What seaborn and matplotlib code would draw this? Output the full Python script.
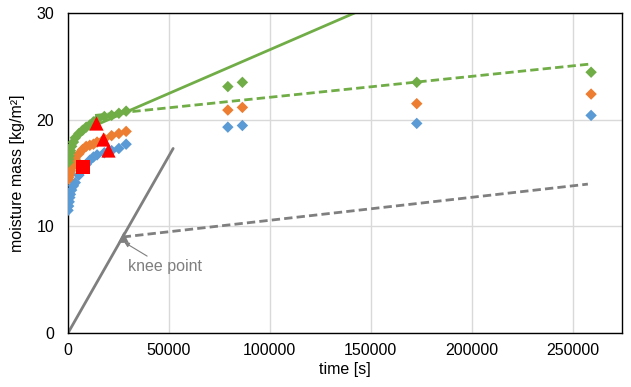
import numpy as np
import pandas as pd
import seaborn as sns
from matplotlib import pyplot as plt

# measured moisture mass [kg/m2] over time [s]
time_s = [0, 300, 600, 900, 1200, 1800, 2700, 3600, 5400, 7200, 9000, 10800,
          12600, 14400, 18000, 21600, 25200, 28800, 79200, 86400, 172800, 259200]
mass_blue = [11.5, 11.9, 12.3, 12.7, 13.0, 13.4, 13.8, 14.1, 14.8, 15.3, 15.8, 16.2,
             16.5, 16.7, 16.9, 17.1, 17.3, 17.7, 19.3, 19.45, 19.65, 20.4]
mass_orange = [14.4, 14.6, 14.8, 15.0, 15.2, 15.5, 15.9, 16.3, 16.8, 17.2, 17.5, 17.6,
               17.7, 17.9, 18.2, 18.5, 18.7, 18.9, 20.9, 21.15, 21.5, 22.4]
mass_green = [16.0, 16.3, 16.6, 16.9, 17.1, 17.5, 17.9, 18.3, 18.7, 19.0, 19.3, 19.5,
              19.8, 20.0, 20.3, 20.4, 20.6, 20.8, 23.1, 23.5, 23.5, 24.45]

# red markers
square_t = [7600]
square_m = [15.6]
triangle_t = [13900, 17500, 19600]
triangle_m = [19.65, 18.15, 17.15]

# fitted lines
green_solid_t = [13900, 170000]
green_solid_m = [19.5, 32.3]
green_dash_t = [13400, 258000]
green_dash_m = [20.4, 25.2]
gray_solid_t = [0, 52100]
gray_solid_m = [0, 17.3]
gray_dash_t = [27100, 257600]
gray_dash_m = [9.0, 13.96]
knee_t = [27100]
knee_m = [9.0]

blue = "#5B9BD5"
orange = "#ED7D31"
green = "#70AD47"
gray = "#7F7F7F"

df = pd.DataFrame({
    "time": time_s * 3,
    "mass": mass_blue + mass_orange + mass_green,
    "series": ["blue"] * len(time_s) + ["orange"] * len(time_s) + ["green"] * len(time_s),
})

sns.set_theme(style="white")
plt.rcParams['font.family'] = ['Liberation Sans', 'DejaVu Sans']

fig = plt.figure(figsize=(6.31, 3.87), dpi=100)
ax = fig.add_axes([0.1078, 0.1395, 0.8779, 0.8269])

# lines
sns.lineplot(x=green_solid_t, y=green_solid_m, color=green, lw=2, ax=ax, zorder=2)
sns.lineplot(x=green_dash_t, y=green_dash_m, color=green, lw=2, ls=(0, (3, 1.5)), ax=ax, zorder=2)
sns.lineplot(x=gray_solid_t, y=gray_solid_m, color=gray, lw=2, ax=ax, zorder=2)
sns.lineplot(x=gray_dash_t, y=gray_dash_m, color=gray, lw=2, ls=(0, (3, 1.5)), ax=ax, zorder=2)

# measured points
sns.scatterplot(data=df, x="time", y="mass", hue="series",
                palette={"blue": blue, "orange": orange, "green": green},
                marker="D", s=34, linewidth=0, legend=False, ax=ax, zorder=3)

sns.scatterplot(x=square_t, y=square_m, marker="s", color="#FF0000", s=115, linewidth=0, ax=ax, zorder=4)
sns.scatterplot(x=triangle_t, y=triangle_m, marker="^", color="#FF0000", s=105, linewidth=0, ax=ax, zorder=4)
sns.scatterplot(x=knee_t, y=knee_m, marker="^", color=gray, s=60, linewidth=0, ax=ax, zorder=4)

ax.annotate("knee point", xy=(knee_t[0] + 800, knee_m[0] - 0.5), xytext=(29700, 6.2),
            fontsize=11.5, color=gray, va="center", ha="left",
            arrowprops=dict(arrowstyle="-|>", color=gray, lw=0.8, mutation_scale=7,
                            shrinkA=0, shrinkB=0))

ax.set_xlim(0, 274500)
ax.set_ylim(0, 30)
ax.set_xticks([0, 50000, 100000, 150000, 200000, 250000])
ax.set_yticks([0, 10, 20, 30])
ax.grid(True, color="#D9D9D9", lw=1)
ax.set_axisbelow(True)
for sp in ax.spines.values():
    sp.set_color("black")
    sp.set_linewidth(1)
ax.tick_params(axis="both", length=0, labelsize=11.5, colors="black")
ax.tick_params(axis="x", pad=7)
ax.tick_params(axis="y", pad=10)
ax.set_xlabel("time [s]", fontsize=11.5, color="black", labelpad=3)
ax.set_ylabel("moisture mass [kg/m²]", fontsize=11.5, color="black", labelpad=8)

plt.savefig("out.png", dpi=100)
